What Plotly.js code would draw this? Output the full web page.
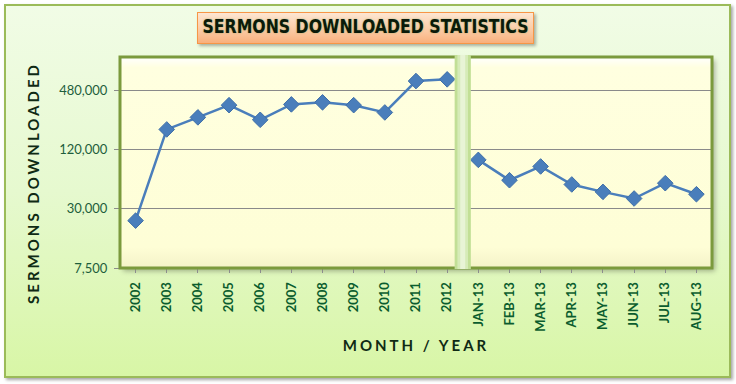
<!DOCTYPE html>
<html>
<head>
<meta charset="utf-8">
<script src="https://cdn.plot.ly/plotly-3.0.1.min.js"></script>
<style>
  body { margin:0; background:#ffffff; }
  #wrap { position:relative; width:736px; height:384px; overflow:hidden; }
  .deco { position:absolute; }
</style>
</head>
<body>
<div id="wrap">
  <div class="deco" style="left:4px;top:4px;width:723px;height:370px;border:2px solid #9BBB59;background:linear-gradient(to bottom,#F1FCE6 0%,#E6F9CF 50%,#D8F6A6 100%);box-shadow:2px 2px 3px rgba(0,0,0,0.35);"></div>
  <div class="deco" style="left:197px;top:12px;width:335px;height:30px;border:1px solid #F79646;background:linear-gradient(to bottom,#FDE6D2 0%,#FBC9A2 60%,#F9B07C 100%);box-shadow:2px 2px 3px rgba(0,0,0,0.3);"></div>
  <div class="deco" style="left:120px;top:57px;width:592px;height:211px;background:linear-gradient(to bottom,#FFFFFF 0%,#FFFFE0 5%,#FEFED6 90%,#F4F2C8 100%);box-shadow:3px 3px 5px rgba(0,0,0,0.3);"></div>
  <div id="chart" class="deco" style="left:0;top:0;width:736px;height:384px;"></div>
</div>
<script>
// ---- data ----
const years = ["2002","2003","2004","2005","2006","2007","2008","2009","2010","2011","2012"];
const yearDownloads = [22700,191600,254000,338000,240000,344000,361000,338000,285000,594000,618000];
const months = ["JAN-13","FEB-13","MAR-13","APR-13","MAY-13","JUN-13","JUL-13","AUG-13"];
const monthDownloads = [94000,58400,80600,52900,44500,38100,54500,42100];
const yTickValues = [7500,30000,120000,480000];

const lineColor = '#4A7EBB';
const green = '#0B5D2E';

const mk = (x, y) => ({
  x: x, y: y, type: 'scatter', mode: 'lines+markers',
  line: {color: lineColor, width: 2.5},
  marker: {symbol: 'diamond', size: 12, color: lineColor, line: {color: '#3F6FA8', width: 1}},
  hoverinfo: 'x+y', showlegend: false, cliponaxis: false
});

const data = [mk(years, yearDownloads), mk(months, monthDownloads)];

const layout = {
  width: 736, height: 384,
  paper_bgcolor: 'rgba(0,0,0,0)',
  plot_bgcolor: 'rgba(0,0,0,0)',
  margin: {l: 120, r: 24, t: 57, b: 116},
  title: {
    text: '<b>SERMONS DOWNLOADED STATISTICS</b>',
    font: {family: 'DejaVu Sans Condensed, sans-serif', size: 20, color: '#0A1A0A',
           shadow: '0px 0px 2px rgba(90,150,60,0.55)'},
    x: 0.4966, xanchor: 'center', y: 0.932, yanchor: 'middle'
  },
  xaxis: {
    type: 'category',
    categoryorder: 'array',
    categoryarray: years.concat(months),
    range: [-0.5, years.length + months.length - 0.5],
    showgrid: false,
    showline: true, linecolor: '#8C8C8C', linewidth: 1,
    ticks: 'outside', ticklen: 4, tickcolor: '#8C8C8C', tickwidth: 1,
    tickangle: -90,
    tickfont: {family: 'Lato, sans-serif', size: 13, color: green, weight: 'bold'},
    ticklabelstandoff: 4,
    zeroline: false,
    title: {
      text: '<b>MONTH / YEAR</b>',
      font: {family: 'Lato, sans-serif', size: 15, color: '#0F2A14'},
      standoff: 9
    }
  },
  yaxis: {
    type: 'log',
    range: [Math.log10(7500), 6.018],
    tickvals: yTickValues,
    tickformat: ',.0f',
    showgrid: true, gridcolor: '#8A8A8A', gridwidth: 1,
    showline: false,
    ticks: 'outside', ticklen: 5, tickcolor: '#8C8C8C',
    tickfont: {family: 'Lato, sans-serif', size: 13, color: '#1E5E3C'},
    ticklabelstandoff: 4,
    zeroline: false
  },
  annotations: [
    {text: '<b>SERMONS DOWNLOADED</b>', xref: 'paper', yref: 'paper',
     x: -0.147, y: 0.403, xanchor: 'center', yanchor: 'middle', textangle: -90,
     showarrow: false, font: {family: 'Lato, sans-serif', size: 15, color: '#0F2A14'}}
  ],
  shapes: [
    {type: 'rect', xref: 'paper', yref: 'paper', x0: 0, x1: 1, y0: 0, y1: 1,
     line: {color: '#7B9A3D', width: 3}, fillcolor: 'rgba(0,0,0,0)', layer: 'above'},
    {type: 'rect', xref: 'x', yref: 'paper', x0: 10.24, x1: 10.76, y0: -0.005, y1: 1.01,
     line: {width: 0}, fillcolor: '#C2DF96', layer: 'above'},
    {type: 'rect', xref: 'x', yref: 'paper', x0: 10.33, x1: 10.67, y0: -0.005, y1: 1.01,
     line: {width: 0}, fillcolor: '#D6EBB8', layer: 'above'},
    {type: 'rect', xref: 'x', yref: 'paper', x0: 10.42, x1: 10.58, y0: -0.005, y1: 1.01,
     line: {width: 0}, fillcolor: '#E8F4D6', layer: 'above'}
  ]
};

Plotly.newPlot('chart', data, layout, {staticPlot: true}).then(() => {
  const gt = document.querySelector('.gtitle');
  if (gt) { gt.setAttribute('textLength', '326'); gt.setAttribute('lengthAdjust', 'spacingAndGlyphs'); }
  const xt = document.querySelector('.xtitle');
  if (xt) xt.style.letterSpacing = '3px';
  const at = document.querySelector('.annotation-text');
  if (at) at.style.letterSpacing = '3px';
});
</script>
</body>
</html>
